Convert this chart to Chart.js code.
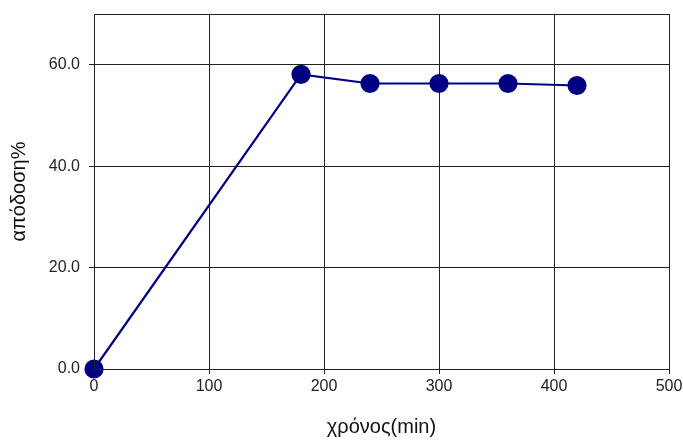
<!DOCTYPE html>
<html>
<head>
<meta charset="utf-8">
<script src="https://cdn.jsdelivr.net/npm/chart.js@4.4.1/dist/chart.umd.min.js"></script>
<style>
  html, body { margin: 0; padding: 0; background: #fff; }
  #wrap { width: 683px; height: 443px; }
</style>
</head>
<body>
<div id="wrap"><canvas id="c" width="683" height="443"></canvas></div>
<script>
// time (min) and yield (%)
const timeMin = [0, 180, 240, 300, 360, 420];
const yieldPct = [0, 58.1, 56.3, 56.3, 56.3, 55.9];
const xTicks = [0, 100, 200, 300, 400, 500];
const yTicks = [0, 20, 40, 60];

const points = timeMin.map((t, i) => ({ x: t, y: yieldPct[i] }));

// outline of the whole plot area
const frame = {
  id: 'frame',
  afterDraw(chart) {
    const a = chart.chartArea, ctx = chart.ctx;
    ctx.save();
    ctx.strokeStyle = '#222';
    ctx.lineWidth = 1;
    ctx.strokeRect(Math.round(a.left) + 0.5, Math.round(a.top) + 0.5,
      Math.round(a.right - a.left), Math.round(a.bottom - a.top));
    ctx.restore();
  }
};

const font = "'Liberation Sans', Arial, sans-serif";

new Chart(document.getElementById('c'), {
  type: 'scatter',
  data: {
    datasets: [{
      data: points,
      showLine: true,
      borderColor: '#000080',
      backgroundColor: '#000080',
      borderWidth: 2.2,
      pointRadius: 8.5,
      pointHoverRadius: 8.5,
      clip: false
    }]
  },
  options: {
    responsive: false,
    animation: false,
    layout: { padding: { top: 14, right: 14, left: 0, bottom: 0 } },
    plugins: { legend: { display: false }, tooltip: { enabled: false } },
    scales: {
      x: {
        type: 'linear',
        min: 0, max: 500,
        afterBuildTicks(s) { s.ticks = xTicks.map(v => ({ value: v })); },
        afterFit(s) { s.height = 74; s.paddingLeft = 0; s.paddingRight = 0; },
        grid: { color: '#222', lineWidth: 1, tickLength: 5 },
        border: { color: '#222' },
        ticks: { color: '#222', font: { family: font, size: 16 }, padding: 3 },
        title: { display: true, text: 'χρόνος(min)', color: '#111',
                 font: { family: font, size: 20 }, padding: { top: 22 } }
      },
      y: {
        type: 'linear',
        min: 0, max: 70,
        afterBuildTicks(s) { s.ticks = yTicks.map(v => ({ value: v })); },
        afterFit(s) { s.width = 94; s.paddingTop = 0; s.paddingBottom = 0; },
        grid: { color: '#222', lineWidth: 1, tickLength: 5 },
        border: { color: '#222' },
        ticks: { color: '#222', font: { family: font, size: 16 }, padding: 9,
                 callback: v => v.toFixed(1) },
        title: { display: true, text: 'απόδοση%', color: '#111',
                 font: { family: font, size: 20 }, padding: { top: 7, bottom: 4 } }
      }
    }
  },
  plugins: [frame]
});
</script>
</body>
</html>
